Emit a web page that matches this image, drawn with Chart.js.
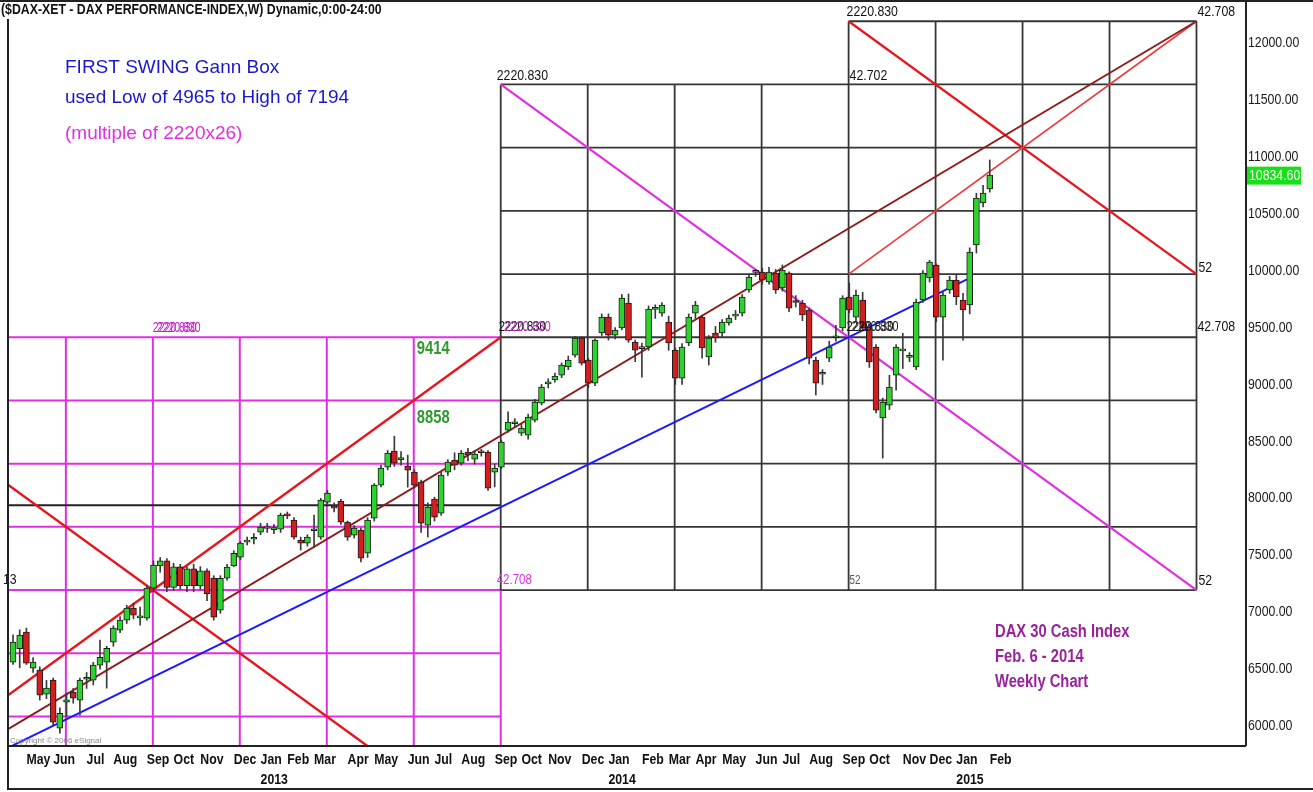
<!DOCTYPE html>
<html>
<head>
<meta charset="utf-8">
<script src="https://cdn.jsdelivr.net/npm/chart.js@4.4.1/dist/chart.umd.min.js"></script>
<style>
  html, body { margin: 0; padding: 0; background: #fff; }
  #wrap { width: 1313px; height: 792px; position: relative; }
</style>
</head>
<body>
<div id="wrap"><canvas id="chart" width="1313" height="792"></canvas></div>
<script>
// weekly DAX candles, week 0 = 20 Apr 2012 ... week 146 = 6 Feb 2015
const opens = [6561,6680,6824,6508,6490,6280,6402,5980,6210,6297,6227,6410,6402,6534,6561,6736,6842,6930,7035,6950,
  6947,7211,7405,7451,7216,7398,7233,7380,7231,7363,7300,7017,7298,7405,7483,7615,7640,7703,7735,7725,
  7729,7860,7808,7633,7606,7715,7659,7967,7920,7975,7791,7677,7720,7518,7826,8116,8274,8415,8340,8283,
  8230,8142,7765,7993,7870,8230,8336,8309,8406,8344,8400,8406,8230,8274,8599,8655,8573,8555,8687,8836,
  9005,9039,9082,9153,9258,9408,9214,9012,9452,9592,9434,9496,9715,9373,9315,9329,9660,9627,9548,9302,
  9056,9364,9627,9592,9241,9452,9452,9540,9600,9627,9830,9985,9988,9900,9979,9847,9979,9724,9715,9654,
  9214,9090,9232,9410,9496,9768,9592,9742,9504,9329,8705,8819,9082,9295,9238,9153,9742,9935,10049,9592,
  9830,9917,9742,9698,10225,10594,10717];
const highs = [6800,6845,6860,6600,6520,6400,6420,6160,6290,6330,6420,6470,6560,6754,6700,6880,6960,7060,7080,7044,
  7230,7450,7480,7470,7430,7420,7400,7420,7400,7380,7320,7320,7420,7540,7620,7660,7690,7780,7780,7770,
  7870,7880,7830,7660,7680,7852,8000,8070,7960,7990,7800,7760,7740,7830,8130,8290,8420,8546,8410,8380,
  8250,8160,7960,8010,8230,8340,8400,8420,8440,8420,8430,8420,8300,8510,8760,8700,8650,8740,8870,9000,
  9050,9100,9190,9250,9420,9420,9230,9400,9620,9620,9500,9790,9795,9390,9364,9690,9700,9720,9600,9320,
  9360,9620,9730,9610,9430,9510,9570,9610,9650,9790,9960,10010,10020,10030,10010,10050,9990,9780,9740,9670,
  9240,9130,9380,9520,9780,9891,9830,9810,9530,9350,8880,9080,9350,9450,9280,9750,10000,10090,10060,9810,
  9950,9960,9800,10200,10680,10750,10972];
const lows = [6540,6510,6540,6470,6227,6240,6000,5937,6080,6200,6095,6330,6360,6500,6332,6700,6820,6900,6940,6886,
  6930,7180,7350,7180,7190,7200,7180,7180,7200,7100,6930,6990,7280,7400,7460,7590,7600,7680,7700,7690,
  7700,7820,7640,7545,7580,7571,7640,7950,7880,7770,7630,7650,7440,7480,7800,8100,8250,8280,8290,8098,
  8090,7700,7659,7800,7850,8200,8250,8290,8330,8300,8370,8070,8100,8260,8580,8620,8550,8520,8670,8820,
  8970,9020,9060,9130,9240,9170,8970,8990,9430,9390,9400,9480,9370,9200,9065,9300,9580,9600,9300,9000,
  9000,9340,9580,9230,9170,9370,9420,9520,9570,9600,9810,9950,9880,9880,9800,9820,9640,9680,9560,9180,
  8907,9000,9200,9380,9470,9630,9560,9470,9150,8750,8353,8780,8950,9140,9200,9130,9720,9900,9550,9214,
  9800,9700,9390,9620,10155,10560,10690];
const closes = [6736,6798,6552,6561,6270,6332,6033,6112,6230,6244,6402,6425,6534,6604,6683,6859,6930,7035,6974,6962,
  7211,7413,7451,7216,7398,7233,7380,7231,7363,7163,6956,7298,7395,7517,7606,7633,7650,7747,7740,7735,
  7852,7845,7659,7606,7659,7721,7984,8046,7914,7791,7659,7738,7474,7808,8116,8266,8397,8309,8344,8248,
  8116,7782,7923,7835,8204,8318,8292,8397,8380,8388,8406,8090,8266,8494,8670,8661,8617,8713,8845,8977,
  9012,9073,9170,9214,9408,9188,9012,9390,9592,9434,9478,9759,9390,9302,9320,9663,9663,9698,9364,9056,
  9329,9592,9698,9320,9408,9408,9548,9583,9610,9768,9944,9988,9917,9988,9830,10005,9671,9720,9610,9232,
  9012,9100,9329,9417,9759,9654,9786,9496,9197,8775,8845,8977,9329,9302,9241,9724,9979,10075,9592,9786,
  9917,9768,9654,10163,10638,10682,10840];

// first weekly bar of each month
const monthWeeks = [2,6,11,15,20,24,28,33,37,41,45,50,54,59,63,67,72,76,80,85,89,94,98,102,106,111,115,119,124,128,133,137,141,146];
const monthNames = ['May','Jun','Jul','Aug','Sep','Oct','Nov','Dec','Jan','Feb','Mar','Apr','May','Jun','Jul','Aug','Sep','Oct','Nov','Dec',
  'Jan','Feb','Mar','Apr','May','Jun','Jul','Aug','Sep','Oct','Nov','Dec','Jan','Feb'];
const yearWeeks = [37, 89, 141];
const yearNames = ['2013', '2014', '2015'];
const priceTicks = [6000,6500,7000,7500,8000,8500,9000,9500,10000,10500,11000,11500,12000];
const lastPrice = 10834.60;

// Gann boxes: price rows of 2220.83/4 and columns of 13 weeks
const gannLevels = [6083.6, 6638.8, 7194.0, 7749.2, 8304.4, 8859.6, 9414.8, 9970.0, 10525.2, 11080.4, 11635.7, 12190.8];
const gannCols = [7.9, 20.9, 33.9, 46.9, 59.9, 72.9, 85.9, 98.9, 111.9, 124.9, 137.9, 150.9, 163.9, 176.9];
const blackLevel = 7940;
const redUp = [[-5.1, 6083.6], [72.9, 9414.8]];
const redDown = [[-5.1, 8304.4], [59.9, 5528.4]];
const brownUp = [[-0.75, 5972], [176.9, 12190.8]];
const upperUp = [[124.9, 9970.0], [176.9, 12190.8]];
const upperDown = [[124.9, 12190.8], [176.9, 9970.0]];
const magentaDown = [[72.9, 11635.7], [176.9, 7194.0]];
const blueUp = [[-0.75, 5808], [142.6, 9923]];

const X_MIN = -0.75, X_MAX = 184.3, Y_MIN = 5824, Y_MAX = 12351;
const SANS = "'Liberation Sans', Arial, sans-serif";
const NARROW = 0.82; // horizontal squeeze to imitate Arial Narrow

const GREY = '#363636', MAGENTA = '#e22ee2', RED = '#e8161c';

function seg(p, color, width, order) {
  return {
    type: 'line',
    data: p.map(q => ({ x: q[0], y: q[1] })),
    borderColor: color, borderWidth: width,
    pointRadius: 0, fill: false, tension: 0, order: order
  };
}

const lineSets = [];
gannLevels.slice(0, 7).forEach(v => lineSets.push(seg([[X_MIN, v], [72.9, v]], MAGENTA, 2, 5)));
gannCols.slice(0, 5).forEach(c => lineSets.push(seg([[c, Y_MIN], [c, 9414.8]], MAGENTA, 2, 5)));
lineSets.push(seg([[72.9, Y_MIN], [72.9, 7194.0]], MAGENTA, 2, 5));
gannLevels.slice(2, 11).forEach(v => lineSets.push(seg([[72.9, v], [176.9, v]], GREY, 1.8, 4)));
lineSets.push(seg([[124.9, 12190.8], [176.9, 12190.8]], GREY, 1.8, 4));
gannCols.slice(5, 9).forEach(c => lineSets.push(seg([[c, 7194.0], [c, 11635.7]], GREY, 1.8, 4)));
gannCols.slice(9).forEach(c => lineSets.push(seg([[c, 7194.0], [c, 12190.8]], GREY, 1.8, 4)));
lineSets.push(seg([[X_MIN, blackLevel], [72.9, blackLevel]], '#222', 2, 4));
lineSets.push(seg(blueUp, '#1a1aff', 2, 3));
lineSets.push(seg(brownUp, '#8e1c1c', 2, 3));
lineSets.push(seg(magentaDown, MAGENTA, 2.2, 3));
lineSets.push(seg(redUp, RED, 2.4, 3));
lineSets.push(seg(redDown, RED, 2.4, 3));
lineSets.push(seg(upperUp, '#ec3a3a', 1.6, 3));
lineSets.push(seg(upperDown, RED, 2.2, 3));

const up = opens.map((o, i) => closes[i] >= o);

function ntxt(ctx, s, x, y, size, weight, color, align, squeeze) {
  ctx.save();
  ctx.translate(x, y);
  ctx.scale(squeeze || NARROW, 1);
  ctx.font = (weight || 'normal') + ' ' + size + 'px ' + SANS;
  ctx.fillStyle = color;
  ctx.textAlign = align || 'left';
  ctx.textBaseline = 'middle';
  ctx.fillText(s, 0, 0);
  ctx.restore();
}

const overlay = {
  id: 'overlay',
  afterDatasetsDraw(chart) {
    const ctx = chart.ctx;
    const xs = chart.scales.x, ys = chart.scales.y;
    const X = v => xs.getPixelForValue(v), Y = v => ys.getPixelForValue(v);
    const t = (s, x, y, size, weight, color, align, sq) => ntxt(ctx, s, x, y, size, weight, color, align, sq);

    // Gann labels
    t('2220.830', X(72.9) - 4, Y(11635.7) - 9, 15, 'normal', '#111');
    t('42.702', X(124.9) + 1, Y(11635.7) - 9, 15, 'normal', '#111');
    t('2220.830', X(124.9) - 2, Y(12190.8) - 9, 15, 'normal', '#111');
    t('42.708', X(176.9) + 1, Y(12190.8) - 9, 15, 'normal', '#111');
    t('52', X(176.9) + 2, Y(9970.0) - 6, 15, 'normal', '#111');
    t('42.708', X(176.9) + 1, Y(9414.8) - 10, 15, 'normal', '#111');
    t('52', X(176.9) + 2, Y(7194.0) - 9, 15, 'normal', '#111');
    t('52', X(124.9) + 1, Y(7194.0) - 9, 12, 'normal', '#555');
    t('42.708', X(72.9) - 4, Y(7194.0) - 10, 14, 'normal', MAGENTA);
    t('2220.830', X(20.9), Y(9414.8) - 9, 15, 'normal', '#c020c8', 'left', 0.7);
    t('2220.830', X(20.9) + 4, Y(9414.8) - 9, 15, 'normal', '#c020c8', 'left', 0.7);
    t('2220.830', X(72.9) - 2, Y(9414.8) - 10, 15, 'normal', '#111', 'left', 0.75);
    t('2220.830', X(72.9) + 3, Y(9414.8) - 10, 15, 'normal', '#c020c8', 'left', 0.75);
    t('2220.830', X(124.9) - 2, Y(9414.8) - 10, 15, 'normal', '#111', 'left', 0.75);
    t('2220.830', X(124.9) + 3, Y(9414.8) - 10, 15, 'normal', '#222', 'left', 0.75);
    t('13', 3, Y(7194.0) - 10, 15, 'normal', '#111');
    t('9414', X(59.9) + 3, Y(9414.8) + 12, 18, 'bold', '#2f9a2f');
    t('8858', X(59.9) + 3, Y(8859.6) + 18, 18, 'bold', '#2f9a2f');

    // header and notes
    t('($DAX-XET - DAX PERFORMANCE-INDEX,W) Dynamic,0:00-24:00', 1, 10, 15, 'bold', '#111');
    t('FIRST SWING Gann Box', 65, 68, 19, 'normal', '#1818cc', 'left', 1);
    t('used Low of 4965 to High of 7194', 65, 98, 19, 'normal', '#1818cc', 'left', 1);
    t('(multiple of 2220x26)', 65, 134, 19, 'normal', '#e030e0', 'left', 1);
    t('DAX 30 Cash Index', 995, 632, 18, 'bold', '#9a229a');
    t('Feb. 6 - 2014', 995, 657, 18, 'bold', '#9a229a');
    t('Weekly Chart', 995, 682, 18, 'bold', '#9a229a');
    t('Copyright \u00a9 2006 eSignal', 10, 741, 8, 'normal', '#888', 'left', 1);
  },
  afterDraw(chart) {
    const ctx = chart.ctx;
    const xs = chart.scales.x, ys = chart.scales.y;
    const a = chart.chartArea;
    ctx.save();

    // axis labels from the scales' own ticks
    xs.ticks.forEach((tk, idx) => {
      const px = xs.getPixelForValue(tk.value);
      ntxt(ctx, monthNames[idx], px, a.bottom + 14, 15, 'bold', '#111');
      const k = yearWeeks.indexOf(tk.value);
      if (k >= 0) ntxt(ctx, yearNames[k], px, a.bottom + 34, 15, 'bold', '#111');
    });
    ys.ticks.forEach(tk => {
      ntxt(ctx, tk.value.toFixed(2), a.right + 2, ys.getPixelForValue(tk.value), 15, 'normal', '#1a1a1a');
    });

    // last price marker
    const yp = ys.getPixelForValue(lastPrice);
    ctx.fillStyle = '#18e018';
    ctx.fillRect(a.right + 1, yp - 9, 54, 18);
    ntxt(ctx, lastPrice.toFixed(2), a.right + 3, yp, 15, 'normal', '#fff');

    // frame
    ctx.strokeStyle = '#222'; ctx.lineWidth = 2;
    ctx.beginPath();
    ctx.moveTo(0, 1); ctx.lineTo(1313, 1);
    ctx.moveTo(a.left, 19); ctx.lineTo(a.left, 790);
    ctx.moveTo(a.right, 1); ctx.lineTo(a.right, a.bottom);
    ctx.moveTo(a.left, a.bottom); ctx.lineTo(a.right, a.bottom);
    ctx.moveTo(a.left, 789); ctx.lineTo(1313, 789);
    ctx.stroke();
    ctx.restore();
  }
};

new Chart(document.getElementById('chart'), {
  type: 'bar',
  data: {
    datasets: [
      {
        type: 'bar', grouped: false, order: 1,
        data: opens.map((o, i) => ({ x: i, y: [Math.min(o, closes[i]), Math.max(o, closes[i])] })),
        backgroundColor: up.map(u => u ? '#2ed12e' : '#d21e1e'),
        borderColor: '#1b1b1b', borderWidth: 1, borderSkipped: false,
        barThickness: 6, minBarLength: 2
      },
      {
        type: 'bar', grouped: false, order: 2,
        data: lows.map((l, i) => ({ x: i, y: [l, highs[i]] })),
        backgroundColor: '#3a3a3a', borderWidth: 0, barThickness: 1
      },
      ...lineSets
    ]
  },
  options: {
    responsive: false,
    animation: false,
    devicePixelRatio: 1,
    layout: { padding: { left: 8, top: 3, right: 0, bottom: 0 } },
    plugins: { legend: { display: false }, tooltip: { enabled: false } },
    scales: {
      x: {
        type: 'linear', min: X_MIN, max: X_MAX, offset: false,
        grid: { display: false, drawTicks: false }, border: { display: false },
        afterBuildTicks: s => { s.ticks = monthWeeks.map(v => ({ value: v })); },
        afterFit: s => { s.height = 46; },
        ticks: { display: false, autoSkip: false }
      },
      y: {
        position: 'right', min: Y_MIN, max: Y_MAX,
        grid: { display: false, drawTicks: false }, border: { display: false },
        afterBuildTicks: s => { s.ticks = priceTicks.map(v => ({ value: v })); },
        afterFit: s => { s.width = 67; },
        ticks: { display: false }
      }
    }
  },
  plugins: [overlay]
});
</script>
</body>
</html>
